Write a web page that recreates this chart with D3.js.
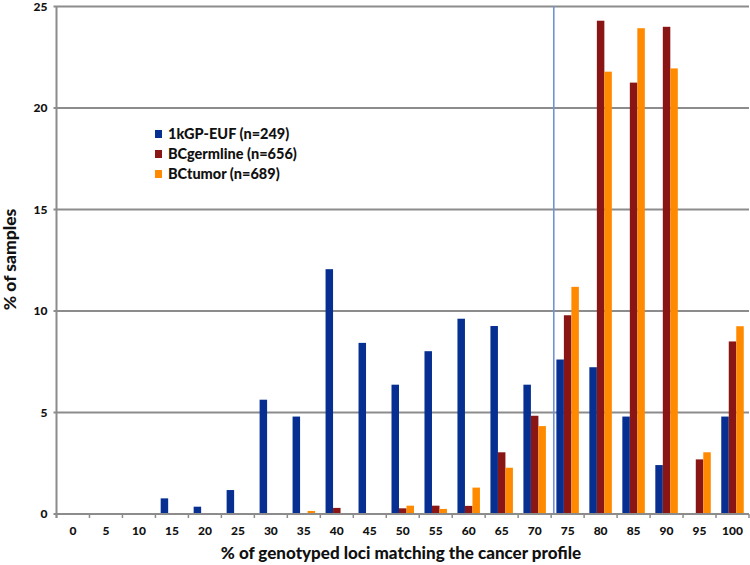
<!DOCTYPE html>
<html>
<head>
<meta charset="utf-8">
<script src="https://cdn.jsdelivr.net/npm/d3@7"></script>
<style>
  html, body { margin: 0; padding: 0; background: #fff; }
  svg { display: block; }
  text { font-family: Lato, "Open Sans", sans-serif; font-weight: 900; fill: #111; }
</style>
</head>
<body>
<svg id="chart" width="750" height="565"></svg>
<script>
const categories = ["0","5","10","15","20","25","30","35","40","45","50","55","60","65","70","75","80","85","90","95","100"];
const seriesNames = ["1kGP-EUF (n=249)", "BCgermline (n=656)", "BCtumor (n=689)"];
const seriesColors = ["#062f91", "#8a1515", "#ff8a00"];
const kgpEuf   = [0, 0, 0, 0.77, 0.36, 1.18, 5.63, 4.8, 12.06, 8.43, 6.37, 8.02, 9.62, 9.26, 6.37, 7.61, 7.23, 4.8, 2.41, 0, 4.8];
const bcGerm   = [0, 0, 0, 0, 0, 0, 0, 0, 0.3, 0, 0.28, 0.41, 0.4, 3.04, 4.84, 9.79, 24.3, 21.25, 24.0, 2.69, 8.5];
const bcTumor  = [0, 0, 0, 0, 0, 0, 0, 0.15, 0, 0, 0.41, 0.25, 1.3, 2.28, 4.33, 11.19, 21.79, 23.93, 21.95, 3.04, 9.25];
const yTicks = [0, 5, 10, 15, 20, 25];
const thresholdPct = 72.9;
const xTitle = "% of genotyped loci matching the cancer profile";
const yTitle = "% of samples";

const series = [kgpEuf, bcGerm, bcTumor];
const svg = d3.select("#chart");
const margin = {left: 56.5, right: 1, top: 6.5, bottom: 51};
const W = 750, H = 565;
const x0 = margin.left, x1 = W - margin.right, yTop = margin.top, yBot = H - margin.bottom;

const x = d3.scaleBand().domain(categories).range([x0, x1]).paddingInner(0).paddingOuter(0);
const xs = d3.scaleBand().domain(d3.range(series.length)).range([0, x.bandwidth()]).paddingInner(0).paddingOuter(0.7);
const y = d3.scaleLinear().domain([0, 25]).range([yBot, yTop]);

const gridColor = "#8c8c8c";

// gridlines
svg.append("g").selectAll("line").data(yTicks.filter(d => d > 0)).join("line")
  .attr("x1", x0 - 3).attr("x2", x1)
  .attr("y1", d => y(d)).attr("y2", d => y(d))
  .attr("stroke", gridColor).attr("stroke-width", 2);

// bars
const rows = [];
categories.forEach((c, i) => series.forEach((s, k) => rows.push({c, k, v: s[i]})));
svg.append("g").selectAll("rect").data(rows.filter(d => d.v > 0)).join("rect")
  .attr("x", d => x(d.c) + xs(d.k))
  .attr("width", xs.bandwidth())
  .attr("y", d => y(d.v))
  .attr("height", d => y(0) - y(d.v))
  .attr("fill", d => seriesColors[d.k]);

// threshold line
const step = x.step();
const catPos = v => x(String(Math.floor(v / 5) * 5)) + step / 2 + (v % 5) / 5 * step;
svg.append("line")
  .attr("x1", catPos(thresholdPct)).attr("x2", catPos(thresholdPct))
  .attr("y1", y(25)).attr("y2", y(0))
  .attr("stroke", "#6f93d6").attr("stroke-width", 1.6);

// x axis
const xAxis = d3.axisBottom(x).tickSize(0).tickPadding(12);
const gx = svg.append("g").attr("transform", `translate(0,${yBot})`).call(xAxis);
gx.select(".domain").remove();
gx.selectAll("text").attr("font-size", 12).attr("font-family", "Lato, sans-serif").attr("font-weight", 900).attr("fill", "#111");
svg.append("line").attr("x1", x0 - 3).attr("x2", x1).attr("y1", yBot).attr("y2", yBot)
  .attr("stroke", gridColor).attr("stroke-width", 2);
svg.append("g").selectAll("line").data(categories.concat(["end"])).join("line")
  .attr("x1", (d, i) => x0 + i * step).attr("x2", (d, i) => x0 + i * step)
  .attr("y1", yBot).attr("y2", yBot + 4)
  .attr("stroke", gridColor).attr("stroke-width", 1.5);

// y axis
const yAxis = d3.axisLeft(y).tickValues(yTicks).tickSize(0).tickPadding(9);
const gy = svg.append("g").attr("transform", `translate(${x0},0)`).call(yAxis);
gy.select(".domain").remove();
gy.selectAll("text").attr("font-size", 12).attr("font-family", "Lato, sans-serif").attr("font-weight", 900).attr("fill", "#111");
svg.append("line").attr("x1", x0).attr("x2", x0).attr("y1", yTop).attr("y2", yBot + 4)
  .attr("stroke", gridColor).attr("stroke-width", 2);

// titles
svg.append("text").attr("x", 401).attr("y", 559).attr("text-anchor", "middle")
  .attr("font-size", 17).text(xTitle);
svg.append("text").attr("transform", "translate(16,259.5) rotate(-90)").attr("text-anchor", "middle")
  .attr("font-size", 17.5).text(yTitle);

// legend
const lg = svg.append("g").attr("transform", "translate(155,134)");
seriesNames.forEach((n, i) => {
  const g = lg.append("g").attr("transform", `translate(0,${i * 20})`);
  g.append("rect").attr("x", 0).attr("y", -4).attr("width", 7).attr("height", 8).attr("fill", seriesColors[i]);
  g.append("text").attr("x", 13).attr("y", 5).attr("font-size", 14.5).text(n);
});
</script>
</body>
</html>
